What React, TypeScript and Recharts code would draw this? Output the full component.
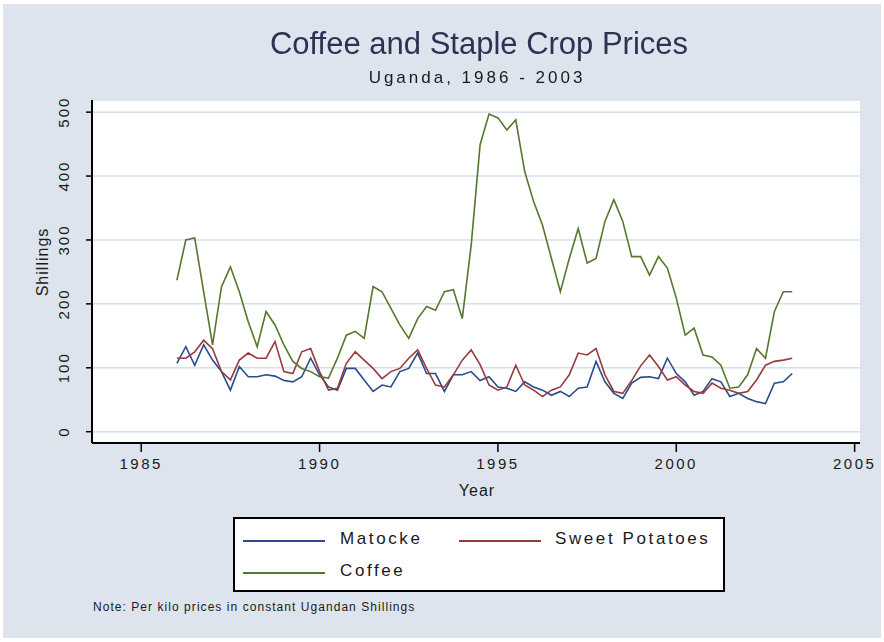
import React from 'react';
import { LineChart, Line, XAxis, YAxis, CartesianGrid, Label } from 'recharts';

// quarterly prices, 1986Q1 .. 2003Q2
const startYear = 1986;

const matocke = [
  107, 133, 104, 136, 112, 94, 65, 102, 86, 86, 89, 87, 80, 78, 86, 115, 89, 70,
  65, 99, 99, 81, 63, 73, 70, 94, 99, 123, 91, 91, 63, 89, 89, 94, 80, 86, 70, 68,
  63, 78, 70, 65, 57, 63, 55, 68, 70, 110, 78, 60, 52, 76, 85, 86, 83, 115, 91, 78,
  57, 63, 83, 78, 55, 60, 52, 47, 44, 76, 78, 91,
];

const sweetPotatoes = [
  115, 115, 125, 143, 130, 94, 81, 112, 123, 115, 115, 141, 94, 91, 125, 130, 94, 65,
  68, 107, 125, 112, 99, 83, 94, 99, 115, 128, 99, 73, 70, 89, 112, 128, 105, 73, 65, 70,
  104, 73, 65, 55, 65, 70, 89, 123, 120, 130, 89, 63, 60, 80, 103, 120, 102, 81, 86, 73,
  63, 60, 76, 68, 65, 60, 63, 81, 104, 110, 112, 115,
];

const coffee = [
  237, 300, 303, 219, 136, 227, 258, 219, 172, 133, 188, 167, 136, 110, 99, 94, 86, 84,
  115, 151, 157, 146, 227, 219, 193, 167, 146, 177, 196, 190, 219, 222, 177, 292, 449, 497, 491, 472,
  488, 407, 360, 323, 271, 219, 271, 318, 264, 271, 329, 363, 329, 274, 274, 245, 274, 256, 209, 151,
  162, 120, 117, 104, 68, 70, 89, 130, 115, 188, 219, 219,
];

const xTicks = [1985, 1990, 1995, 2000, 2005];
const yTicks = [0, 100, 200, 300, 400, 500];

const series = [
  { key: 'matocke', name: 'Matocke', color: '#2b4b8c' },
  { key: 'sweetPotatoes', name: 'Sweet Potatoes', color: '#983a3e' },
  { key: 'coffee', name: 'Coffee', color: '#56772e' },
];

const data = coffee.map((c, i) => ({
  year: startYear + i / 4,
  matocke: matocke[i],
  sweetPotatoes: sweetPotatoes[i],
  coffee: c,
}));

const font = 'Arial, "Liberation Sans", sans-serif';

const YTick = (props: any) => {
  const { x, y, payload } = props;
  const tx = x - 15;
  return (
    <text
      x={tx}
      y={y}
      transform={`rotate(-90 ${tx} ${y})`}
      textAnchor="middle"
      fill="#1a1a1a"
      fontSize={15}
      fontFamily={font}
      letterSpacing={2}
    >
      {payload.value}
    </text>
  );
};

const LegendItem = ({ color, name, x, y, lineX }: any) => (
  <>
    <div style={{ position: 'absolute', left: lineX, top: y, width: 82, height: 2, background: color }} />
    <div style={{ position: 'absolute', left: x, top: y - 11, fontSize: 17, letterSpacing: 2.6, color: '#1a1a1a' }}>{name}</div>
  </>
);

export default function App() {
  return (
    <div
      style={{
        position: 'fixed',
        left: 0,
        top: 0,
        width: 884,
        height: 642,
        background: '#fff',
        fontFamily: font,
      }}
    >
      <div style={{ position: 'absolute', left: 3, top: 4, width: 878, height: 634, background: '#dde4ed' }} />
      <div style={{ position: 'absolute', left: 0, top: 0 }}>
        <LineChart width={884} height={642} data={data} margin={{ top: 100, right: 24, bottom: 149, left: 32 }}>
          <CartesianGrid vertical={false} stroke="#d6e0ec" strokeWidth={1.5} fill="#ffffff" />
          <XAxis
            dataKey="year"
            type="number"
            domain={[1983.62, 2005.15]}
            ticks={xTicks}
            allowDataOverflow
            height={50}
            tickSize={9}
            tickMargin={6}
            axisLine={{ stroke: '#000', strokeWidth: 2 }}
            tickLine={{ stroke: '#000', strokeWidth: 1.5 }}
            tick={{ fill: '#1a1a1a', fontSize: 15, fontFamily: font, letterSpacing: 2.5 }}
          >
            <Label
              content={() => (
                <text x={477} y={496} textAnchor="middle" fill="#1a1a1a" fontSize={16} fontFamily={font} letterSpacing={1}>
                  Year
                </text>
              )}
            />
          </XAxis>
          <YAxis
            type="number"
            domain={[-17.7, 519]}
            ticks={yTicks}
            allowDataOverflow
            width={60}
            tickSize={6}
            axisLine={{ stroke: '#000', strokeWidth: 2 }}
            tickLine={{ stroke: '#000', strokeWidth: 1.5 }}
            tick={<YTick />}
          >
            <Label
              content={() => (
                <text
                  x={48}
                  y={262}
                  transform="rotate(-90 48 262)"
                  textAnchor="middle"
                  fill="#1a1a1a"
                  fontSize={16}
                  fontFamily={font}
                  letterSpacing={1}
                >
                  Shillings
                </text>
              )}
            />
          </YAxis>
          {series.map((s) => (
            <Line
              key={s.key}
              type="linear"
              dataKey={s.key}
              name={s.name}
              stroke={s.color}
              strokeWidth={1.6}
              dot={false}
              isAnimationActive={false}
            />
          ))}
        </LineChart>
      </div>

      <div style={{ position: 'absolute', left: 0, width: 958, top: 26, textAlign: 'center', fontSize: 31, color: '#2c3350' }}>
        Coffee and Staple Crop Prices
      </div>
      <div style={{ position: 'absolute', left: 0, width: 954, top: 68, textAlign: 'center', fontSize: 17, letterSpacing: 3, color: '#1a1a1a' }}>
        Uganda, 1986 - 2003
      </div>

      <div
        style={{
          position: 'absolute',
          left: 233,
          top: 517,
          width: 488,
          height: 71,
          border: '2px solid #000',
          background: '#fff',
        }}
      />
      <LegendItem color={series[0].color} name={series[0].name} lineX={243} x={340} y={540} />
      <LegendItem color={series[1].color} name={series[1].name} lineX={459} x={555} y={540} />
      <LegendItem color={series[2].color} name={series[2].name} lineX={243} x={340} y={572} />

      <div style={{ position: 'absolute', left: 93, top: 600, fontSize: 12, letterSpacing: 1.05, color: '#1a1a1a' }}>
        Note: Per kilo prices in constant Ugandan Shillings
      </div>
    </div>
  );
}
